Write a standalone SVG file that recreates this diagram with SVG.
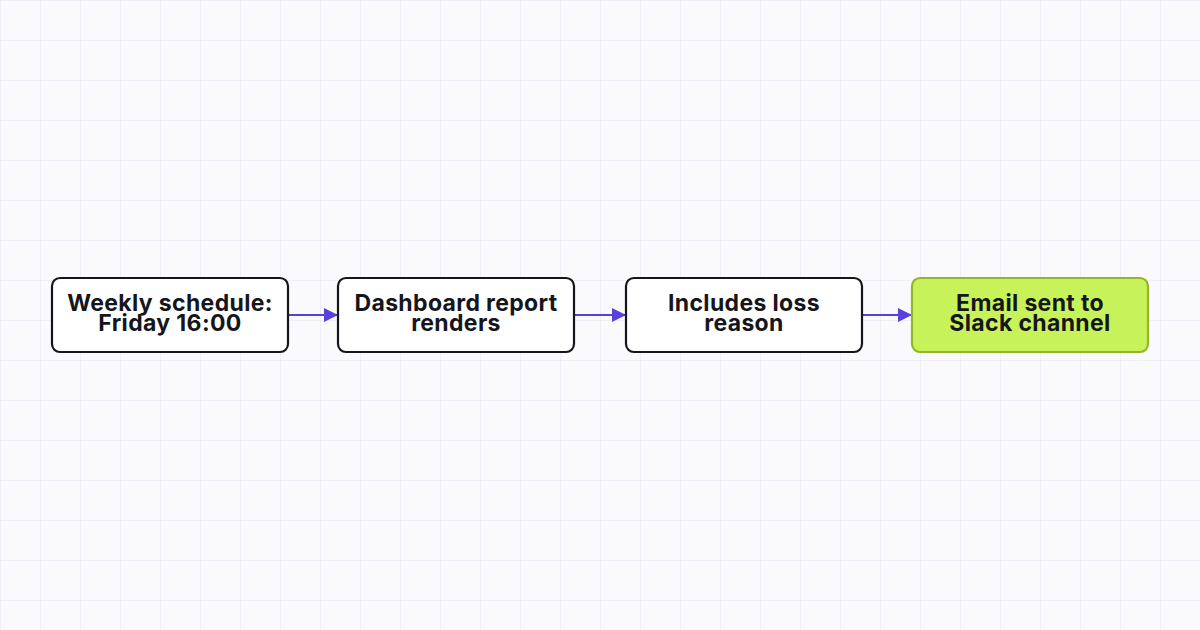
<svg xmlns="http://www.w3.org/2000/svg" width="1200" height="630" viewBox="0 0 1200 630">
<defs>
<pattern id="grid" width="40" height="40" patternUnits="userSpaceOnUse">
<path d="M40 0H0V40" fill="none" stroke="#ecebf6" stroke-width="1.5"/>
</pattern>
<marker id="ah" viewBox="0 0 14 14" refX="14" refY="7" markerWidth="14" markerHeight="14" markerUnits="userSpaceOnUse" orient="auto">
<path d="M0 0L14 7L0 14Z" fill="#5b3fd9"/>
</marker>
</defs>
<style>
.box{fill:#ffffff;stroke:#15161c;stroke-width:2.2}
.hl{fill:#c8f25a;stroke:#93b52c;stroke-width:2.2}
.lbl{font-family:Inter,"Liberation Sans",sans-serif;font-weight:700;font-size:23px;letter-spacing:0.35px;fill:#15161c;text-anchor:middle}
.edge{stroke:#5b3fd9;stroke-width:2;fill:none;marker-end:url(#ah)}
</style>
<rect width="1200" height="630" fill="#fafafc"/>
<rect width="1200" height="630" fill="url(#grid)"/>
<g id="connectors">
<path class="edge" d="M288 315H338"/>
<path class="edge" d="M574 315H626"/>
<path class="edge" d="M862 315H912"/>
</g>
<g id="n1">
<rect class="box" x="52" y="278" width="236" height="74" rx="8"/>
<text class="lbl" x="170" y="311">Weekly schedule:</text>
<text class="lbl" x="170" y="331">Friday 16:00</text>
</g>
<g id="n2">
<rect class="box" x="338" y="278" width="236" height="74" rx="8"/>
<text class="lbl" x="456" y="311">Dashboard report</text>
<text class="lbl" x="456" y="331">renders</text>
</g>
<g id="n3">
<rect class="box" x="626" y="278" width="236" height="74" rx="8"/>
<text class="lbl" x="744" y="311">Includes loss</text>
<text class="lbl" x="744" y="331">reason</text>
</g>
<g id="n4">
<rect class="hl" x="912" y="278" width="236" height="74" rx="8"/>
<text class="lbl" x="1030" y="311">Email sent to</text>
<text class="lbl" x="1030" y="331">Slack channel</text>
</g>
</svg>
